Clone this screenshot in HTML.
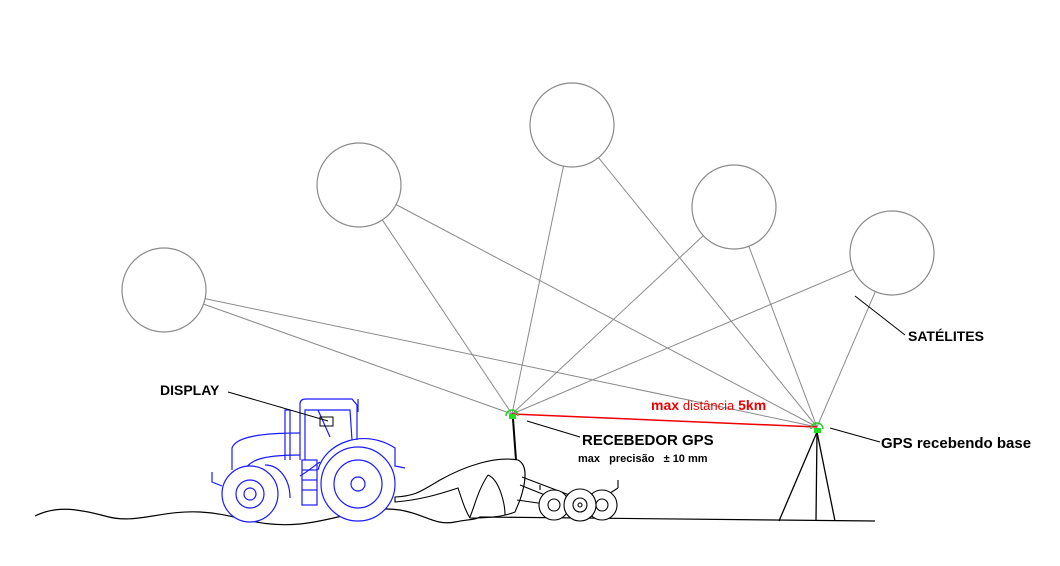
<!DOCTYPE html>
<html><head><meta charset="utf-8"><style>
html,body{margin:0;padding:0;background:#fff;}
svg{display:block;}
text{font-family:"Liberation Sans",sans-serif;}
</style></head><body>
<svg width="1060" height="566" viewBox="0 0 1060 566" xmlns="http://www.w3.org/2000/svg">
<rect width="1060" height="566" fill="#fff"/>
<g stroke="#8a8a8a" stroke-width="1" fill="none">
<line x1="164" y1="290" x2="512" y2="414"/>
<line x1="164" y1="290" x2="817" y2="427"/>
<line x1="359" y1="185" x2="512" y2="414"/>
<line x1="359" y1="185" x2="817" y2="427"/>
<line x1="572" y1="125" x2="512" y2="414"/>
<line x1="572" y1="125" x2="817" y2="427"/>
<line x1="734" y1="207" x2="512" y2="414"/>
<line x1="734" y1="207" x2="817" y2="427"/>
<line x1="892" y1="253" x2="512" y2="414"/>
<line x1="892" y1="253" x2="817" y2="427"/>
</g>
<g stroke="#8a8a8a" stroke-width="1.2" fill="#fff">
<circle cx="164" cy="290" r="42"/>
<circle cx="359" cy="185" r="42"/>
<circle cx="572" cy="125" r="42"/>
<circle cx="734" cy="207" r="42"/>
<circle cx="892" cy="253" r="42"/>
</g>
<line x1="512" y1="414" x2="817" y2="427" stroke="#e00" stroke-width="1.5"/>
<path d="M35,516 C55,506 75,508 105,516 C135,525 160,510 200,512 C240,514 255,528 300,524 C340,520 365,505 400,510 C425,514 435,526 455,522 C470,519 475,520 480,517 L875,521" stroke="#000" stroke-width="1.2" fill="none"/>
<g stroke="#000" stroke-width="1.3" fill="none">
<line x1="817" y1="432" x2="779" y2="521"/>
<line x1="817" y1="432" x2="816" y2="521"/>
<line x1="817" y1="432" x2="835" y2="521"/>
</g>
<g stroke="#2c2" stroke-width="1.5" fill="none">
<path d="M506,416 A6,6 0 0 1 518,416"/>
<path d="M811,429 A6,6 0 0 1 823,429"/>
</g>
<rect x="509" y="414" width="7" height="5" fill="#2d2"/>
<rect x="814" y="428" width="7" height="5" fill="#2d2"/>
<line x1="513" y1="419" x2="516" y2="460" stroke="#000" stroke-width="2"/>
<g stroke="#000" stroke-width="1.1" fill="none">
<path d="M395,497 C415,496 420,492 440,480 C465,466 495,456 518,460 C528,465 526,482 520,500 L515,512 C500,518 480,518 470,518 C465,510 462,500 458,488 C440,494 420,500 395,502 Z"/>
<path d="M488,475 C500,480 505,505 505,515"/>
<path d="M488,475 C478,490 475,505 470,517"/>
<line x1="522" y1="477" x2="572" y2="496"/>
<line x1="520" y1="485" x2="565" y2="503"/>
<line x1="517" y1="500" x2="545" y2="504"/>
<line x1="607" y1="495" x2="618" y2="488"/>
<line x1="618" y1="480" x2="618" y2="488"/>
<line x1="540" y1="490" x2="540" y2="485"/>
<circle cx="554" cy="505" r="15" fill="#fff"/><circle cx="554" cy="505" r="6"/>
<circle cx="602" cy="505" r="15" fill="#fff"/><circle cx="602" cy="505" r="6"/>
<circle cx="580" cy="505" r="16" fill="#fff"/><circle cx="580" cy="505" r="7"/><circle cx="580" cy="505" r="2"/>
</g>
<g stroke="#1a1aff" stroke-width="1.2" fill="none">
<path d="M232,470 L232,448 C236,436 265,433 300,433"/>
<path d="M243,473 C248,460 262,455 300,455"/>
<path d="M212,472 L212,482 L222,486"/>
<path d="M300,460 L300,404 C300,400 303,399 306,399 L352,399 L357,405 L357,440"/>
<path d="M305,460 L305,410 L350,410 L352,440"/>
<line x1="358" y1="399" x2="358" y2="412"/>
<path d="M285,460 L285,410 L290,410 L290,460"/>
<rect x="302" y="460" width="15" height="45"/>
<line x1="302" y1="470" x2="317" y2="470"/><line x1="302" y1="480" x2="317" y2="480"/><line x1="302" y1="490" x2="317" y2="490"/>
<path d="M318,470 C325,442 365,428 395,448 L395,466 L405,468"/>
<path d="M265,465 C280,465 290,480 290,498"/>
<path d="M300,476 C310,470 315,465 320,462"/>
<circle cx="358" cy="484" r="37" fill="#fff"/>
<circle cx="358" cy="484" r="24"/><circle cx="358" cy="484" r="7"/>
<circle cx="250" cy="494" r="28" fill="#fff"/>
<circle cx="250" cy="494" r="14"/><circle cx="250" cy="494" r="6"/>
<path d="M318,410 L330,437"/>
</g>
<rect x="320" y="417" width="13" height="9" stroke="#000" stroke-width="1" fill="none"/>
<g stroke="#000" stroke-width="1" fill="none">
<line x1="228" y1="392" x2="328" y2="421"/>
<line x1="527" y1="421" x2="580" y2="437"/>
<line x1="830" y1="428" x2="880" y2="442"/>
<line x1="905" y1="335" x2="855" y2="296"/>
</g>
<text x="160" y="395" font-size="14" font-weight="bold">DISPLAY</text>
<text x="908" y="341" font-size="14" font-weight="bold">SATÉLITES</text>
<text x="582" y="445" font-size="15" font-weight="bold">RECEBEDOR GPS</text>
<text x="578" y="462" font-size="11" font-weight="bold">max&#160;&#160; precisão &#160;&#160;± 10 mm</text>
<text x="651" y="410" font-size="14" fill="#e00"><tspan font-weight="bold">max</tspan> <tspan font-size="13">distância</tspan> <tspan font-weight="bold">5km</tspan></text>
<text x="881" y="448" font-size="15" font-weight="bold">GPS recebendo base</text>
</svg>
</body></html>
